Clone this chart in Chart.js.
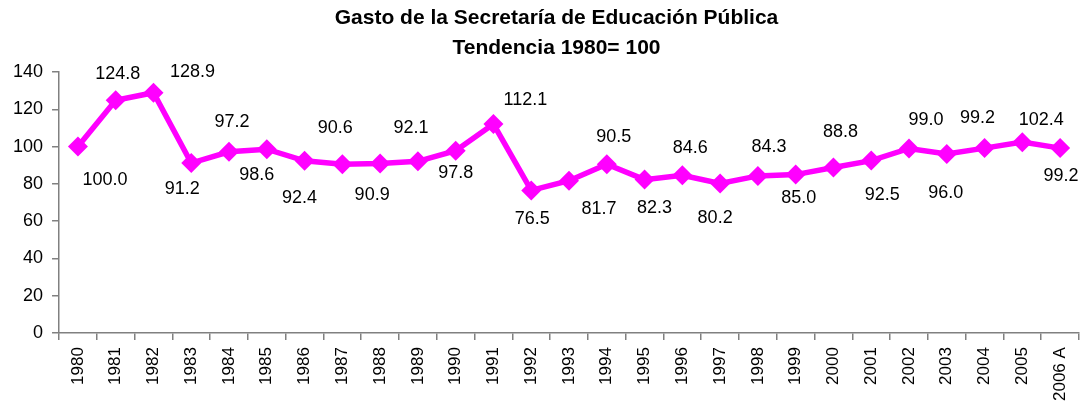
<!DOCTYPE html>
<html>
<head>
<meta charset="utf-8">
<script src="https://cdn.jsdelivr.net/npm/chart.js@4.4.0/dist/chart.umd.min.js"></script>
<style>
  html, body { margin: 0; padding: 0; background: #fff; }
  #wrap { width: 1089px; height: 408px; }
</style>
</head>
<body>
<div id="wrap"><canvas id="grafico"></canvas></div>
<script>
// ==================== DATOS ====================
const titulo = ['Gasto de la Secretaría de Educación Pública', 'Tendencia 1980= 100'];
const anios = ['1980', '1981', '1982', '1983', '1984', '1985', '1986', '1987', '1988',
    '1989', '1990', '1991', '1992', '1993', '1994', '1995', '1996', '1997', '1998',
    '1999', '2000', '2001', '2002', '2003', '2004', '2005', '2006 A'];
const gastoSEP = [100.0, 124.8, 128.9, 91.2, 97.2, 98.6, 92.4, 90.6, 90.9,
    92.1, 97.8, 112.1, 76.5, 81.7, 90.5, 82.3, 84.6, 80.2, 84.3,
    85.0, 88.8, 92.5, 99.0, 96.0, 99.2, 102.4, 99.2];
const ticksY = [0, 20, 40, 60, 80, 100, 120, 140];

// desplazamiento de cada etiqueta respecto a su punto (px)
const posEtiquetas = [
    [27, 33], [2, -26], [39, -21], [-9, 26], [3, -30], [-10, 26], [-5, 37], [-7, -36], [-8, 31],
    [-7, -33], [0, 22], [32, -24], [1, 29], [30, 28], [7, -27], [10, 28], [8, -27], [-5, 34], [11, -29],
    [3, 23], [7, -35], [11, 34], [17, -28], [-1, 39], [-7, -30], [19, -22], [1, 28]
];

const fuente = '"Liberation Sans", Arial, sans-serif';

// ==================== PLUGINS ====================
// título al estilo Excel, algo corrido a la derecha del centro
const tituloPlugin = {
    id: 'titulo',
    afterDraw(chart) {
        const ctx = chart.ctx;
        const cx = chart.width / 2 + 12;
        ctx.save();
        ctx.font = 'bold 21px ' + fuente;
        ctx.fillStyle = '#000';
        ctx.textAlign = 'center';
        ctx.textBaseline = 'middle';
        ctx.fillText(titulo[0], cx, 18);
        ctx.fillText(titulo[1], cx, 48);
        ctx.restore();
    }
};

const etiquetasPlugin = {
    id: 'etiquetas',
    afterDatasetsDraw(chart) {
        const ctx = chart.ctx;
        const meta = chart.getDatasetMeta(0);
        ctx.save();
        ctx.font = '18px ' + fuente;
        ctx.fillStyle = '#000';
        ctx.textAlign = 'center';
        ctx.textBaseline = 'middle';
        meta.data.forEach((pt, i) => {
            const off = posEtiquetas[i] || [0, -25];
            ctx.fillText(gastoSEP[i].toFixed(1), pt.x + off[0], pt.y + off[1]);
        });
        ctx.restore();
    }
};

// ==================== GRÁFICO ====================
new Chart(document.getElementById('grafico'), {
    type: 'line',
    data: {
        labels: anios,
        datasets: [{
            data: gastoSEP,
            borderColor: '#FF00FF',
            backgroundColor: '#FF00FF',
            borderWidth: 5.5,
            pointStyle: 'rectRot',
            pointRadius: 10,
            pointHoverRadius: 10,
            pointBorderWidth: 0,
            tension: 0
        }]
    },
    options: {
        responsive: true,
        maintainAspectRatio: false,
        animation: false,
        layout: { padding: { left: 4, right: 4, top: 72, bottom: 0 } },
        plugins: {
            legend: { display: false },
            tooltip: { enabled: false },
            title: { display: false }
        },
        scales: {
            x: {
                offset: true,
                border: { color: '#808080', width: 1.5 },
                grid: { offset: true, drawOnChartArea: false, tickLength: 7, color: '#808080', lineWidth: 1.5 },
                ticks: {
                    color: '#000',
                    minRotation: 90,
                    maxRotation: 90,
                    autoSkip: false,
                    padding: 7,
                    font: { family: fuente, size: 17, lineHeight: 0.6 }
                }
            },
            y: {
                min: 0,
                max: 140,
                afterBuildTicks(axis) {
                    axis.ticks = ticksY.map(v => ({ value: v }));
                },
                border: { color: '#808080', width: 1.5 },
                grid: { drawOnChartArea: false, tickLength: 7, color: '#808080', lineWidth: 1.5 },
                ticks: {
                    color: '#000',
                    padding: 9,
                    font: { family: fuente, size: 18 }
                }
            }
        }
    },
    plugins: [etiquetasPlugin, tituloPlugin]
});
</script>
</body>
</html>
